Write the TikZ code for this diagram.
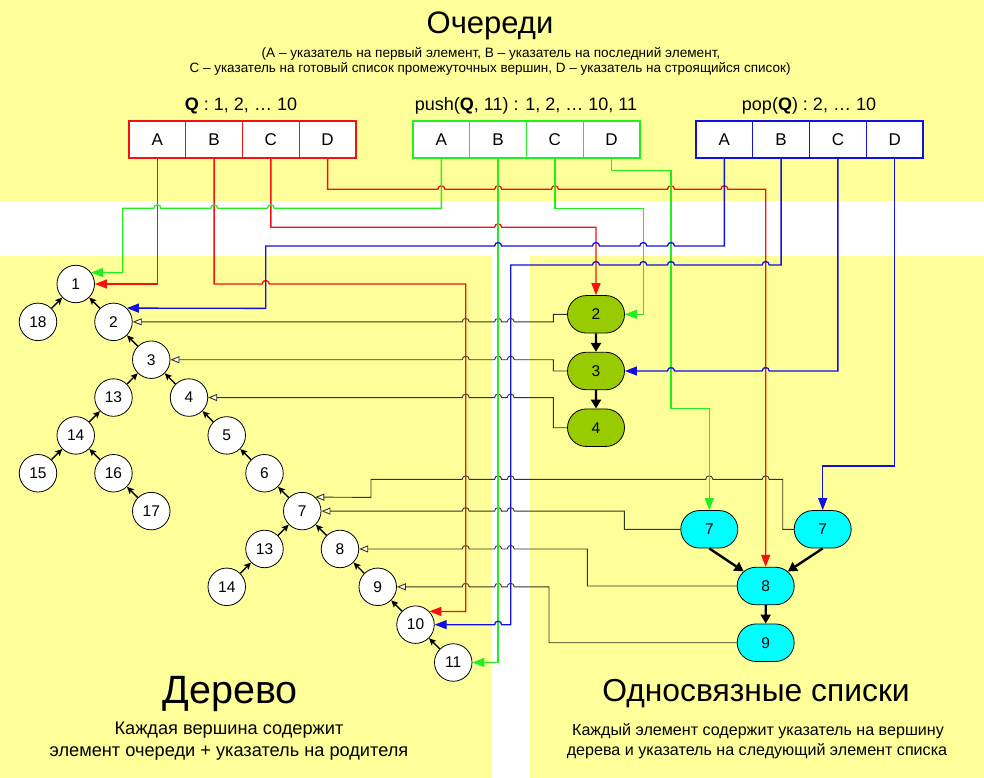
\documentclass[tikz,border=0pt]{standalone}
\usepackage{fontspec}
\setmainfont{Liberation Sans}
\usetikzlibrary{arrows.meta,shapes.misc}
\definecolor{bgY}{HTML}{FFFF99}
\definecolor{cR}{HTML}{F81010}
\definecolor{cG}{HTML}{22EE22}
\definecolor{cB}{HTML}{1010E0}
\definecolor{lgreen}{HTML}{99CC00}
\definecolor{lcyan}{HTML}{00FFFF}
\definecolor{ptr}{HTML}{333322}
\begin{document}
\begin{tikzpicture}[x=1pt,y=-1pt,
 cell/.style={draw, fill=white, line width=1.3pt, minimum width=56.75pt, minimum height=37pt, inner sep=0pt, font=\fontsize{17}{20}\selectfont},
 tn/.style={circle, draw=black, fill=white, line width=0.8pt, minimum size=37.5pt, inner sep=0pt, font=\fontsize{15.5}{18}\selectfont},
 gln/.style={rounded rectangle, draw=black, fill=lgreen, line width=0.8pt, minimum width=57pt, minimum height=37.5pt, inner sep=0pt, font=\fontsize{15.5}{18}\selectfont},
 cln/.style={gln, fill=lcyan},
 rl/.style={draw=cR, line width=1.3pt},
 gl/.style={draw=cG, line width=1.3pt},
 bl/.style={draw=cB, line width=1.3pt},
 cend/.style={-{Triangle[length=12pt,width=9pt]}},
 pl/.style={draw=ptr, line width=0.9pt, -{Triangle[open,length=9pt,width=7pt,fill=white]}},
 tedge/.style={draw=black, line width=1.4pt, -{Stealth[length=7pt,width=6.5pt,inset=1.5pt]}},
 ledge/.style={draw=black, line width=2.4pt, -{Triangle[length=9pt,width=10pt]}},
 hopR/.style args={#1/#2}{insert path={-- ({#1-3.5},#2) .. controls ({#1-3.5},{#2-4.6}) and ({#1+3.5},{#2-4.6}) .. ({#1+3.5},#2)}},
 hopL/.style args={#1/#2}{insert path={-- ({#1+3.5},#2) .. controls ({#1+3.5},{#2-4.6}) and ({#1-3.5},{#2-4.6}) .. ({#1-3.5},#2)}},
]
% background
\fill[bgY] (0,0) rectangle (984,201);
\fill[bgY] (0,256) rectangle (492,778);
\fill[bgY] (530,256) rectangle (984,778);
\useasboundingbox (0,0) rectangle (984,778);

% titles
\node[anchor=base, font=\fontsize{31}{36}\selectfont] (title) at (490,34) {Очереди};
\node[anchor=base, font=\fontsize{13.6}{16}\selectfont] (sub1) at (491,57.5) {(A – указатель на первый элемент, B – указатель на последний элемент,};
\node[anchor=base, font=\fontsize{13.5}{16}\selectfont] (sub2) at (490,73) {C – указатель на готовый список промежуточных вершин, D – указатель на строящийся список)};
\node[anchor=base, font=\fontsize{18}{20}\selectfont] (lq) at (241,111) {\textbf{Q} : 1, 2, … 10};
\node[anchor=base, font=\fontsize{18}{20}\selectfont] (lpush) at (526,111) {push(\textbf{Q}, 11) : 1, 2, … 10, 11};
\node[anchor=base, font=\fontsize{18}{20}\selectfont] (lpop) at (809,111) {pop(\textbf{Q}) : 2, … 10};
\node[anchor=base, font=\fontsize{39.5}{44}\selectfont] (tree) at (230,703) {Дерево};
\node[anchor=base, font=\fontsize{18.2}{20}\selectfont] (tree1) at (229,734) {Каждая вершина содержит};
\node[anchor=base, font=\fontsize{18.2}{20}\selectfont] (tree2) at (229,756) {элемент очереди + указатель на родителя};
\node[anchor=base, font=\fontsize{31.8}{36}\selectfont] (lists) at (756,701) {Односвязные списки};
\node[anchor=base, font=\fontsize{16.1}{18}\selectfont] (lists1) at (758,735) {Каждый элемент содержит указатель на вершину};
\node[anchor=base, font=\fontsize{16.1}{18}\selectfont] (lists2) at (757,755) {дерева и указатель на следующий элемент списка};

% queue cells
\node[cell, draw=cR] (rA) at (157.375,139.5) {A};
\node[cell, draw=cR] (rB) at (214.125,139.5) {B};
\node[cell, draw=cR] (rC) at (270.875,139.5) {C};
\node[cell, draw=cR] (rD) at (327.625,139.5) {D};
\node[cell, draw=cG] (gA) at (441.375,139.5) {A};
\node[cell, draw=cG] (gB) at (498.125,139.5) {B};
\node[cell, draw=cG] (gC) at (554.875,139.5) {C};
\node[cell, draw=cG] (gD) at (611.625,139.5) {D};
\node[cell, draw=cB] (bA) at (724.375,139.5) {A};
\node[cell, draw=cB] (bB) at (781.125,139.5) {B};
\node[cell, draw=cB] (bC) at (837.875,139.5) {C};
\node[cell, draw=cB] (bD) at (894.625,139.5) {D};

% tree nodes
\node[tn] (t1)  at (75.75,284)    {1};
\node[tn] (t18) at (38,321.85)    {18};
\node[tn] (t2)  at (113.5,321.85) {2};
\node[tn] (t3)  at (151.25,359.7) {3};
\node[tn] (t13) at (113.5,397.55) {13};
\node[tn] (t4)  at (189,397.55)   {4};
\node[tn] (t14) at (75.75,435.4)  {14};
\node[tn] (t5)  at (226.75,435.4) {5};
\node[tn] (t15) at (38,473.25)    {15};
\node[tn] (t16) at (113.5,473.25) {16};
\node[tn] (t6)  at (264.5,473.25) {6};
\node[tn] (t17) at (151.25,511.1) {17};
\node[tn] (t7)  at (302.25,511.1) {7};
\node[tn] (t13b) at (264.5,548.95) {13};
\node[tn] (t8)  at (340,548.95)   {8};
\node[tn] (t14b) at (226.75,586.8) {14};
\node[tn] (t9)  at (377.75,586.8) {9};
\node[tn] (t10) at (415.5,624.65) {10};
\node[tn] (t11) at (453.25,662.5) {11};

\foreach \c/\p in {t18/t1,t2/t1,t3/t2,t13/t3,t4/t3,t14/t13,t5/t4,t15/t14,t16/t14,t6/t5,t17/t16,t7/t6,t13b/t7,t8/t7,t14b/t13b,t9/t8,t10/t9,t11/t10}
  \draw[tedge] (\c) -- (\p);

% list nodes
\node[gln] (l2) at (596,314.3) {2};
\node[gln] (l3) at (596,371)   {3};
\node[gln] (l4) at (596,427.7) {4};
\node[cln] (c7a) at (709.3,529.3) {7};
\node[cln] (c7b) at (822.7,529.3) {7};
\node[cln] (c8)  at (765.7,586)   {8};
\node[cln] (c9)  at (765.7,642.7) {9};

\draw[ledge] (l2) -- (l3);
\draw[ledge] (l3) -- (l4);
\draw[ledge] (c7a.south) -- (c8);
\draw[ledge] (c7b.south) -- (c8);
\draw[ledge] (c8) -- (c9);

% pointers from lists to tree
\draw[pl] (l2.west) -- (553.3,314.3) -- (553.3,321.85) [hopL=510.7/321.85] [hopL=498.125/321.85] [hopL=465.7/321.85] -- (t2.east);
\draw[pl] (l3.west) -- (553.3,371) -- (553.3,359.7) [hopL=510.7/359.7] [hopL=498.125/359.7] [hopL=465.7/359.7] -- (t3.east);
\draw[pl] (l4.west) -- (553.3,427.7) -- (553.3,397.55) [hopL=510.7/397.55] [hopL=498.125/397.55] [hopL=465.7/397.55] -- (t4.east);
\draw[pl] (c7a.west) -- (624.3,529.3) -- (624.3,511.1) [hopL=510.7/511.1] [hopL=498.125/511.1] [hopL=465.7/511.1] -- (t7.east);
\draw[pl] (c7b.west) -- (782.7,529.3) -- (782.7,479.3) [hopL=765.7/479.3] [hopL=709.3/479.3] [hopL=510.7/479.3] [hopL=498.125/479.3] [hopL=465.7/479.3] -- (371,479.3) -- (371,497.4) -- (t7.47);
\draw[pl] (c8.west) -- (587.3,586) -- (587.3,548.95) [hopL=510.7/548.95] [hopL=498.125/548.95] [hopL=465.7/548.95] -- (t8.east);
\draw[pl] (c9.west) -- (549,642.7) -- (549,586.8) [hopL=510.7/586.8] [hopL=498.125/586.8] [hopL=465.7/586.8] -- (t9.east);

% red queue pointers
\draw[rl, cend] (rA.south) -- (157.375,284) -- (t1.east);
\draw[rl, cend] (rB.south) -- (214.125,284) [hopR=265.7/284] -- (465.7,284) -- (465.7,611.6) -- (t10.44);
\draw[rl, cend] (rC.south) -- (270.875,227.3) [hopR=498.125/227.3] -- (596,227.3) -- (l2.north);
\draw[rl, cend] (rD.south) -- (327.625,189.3) [hopR=441.375/189.3] [hopR=498.125/189.3] [hopR=554.875/189.3] [hopR=671/189.3] [hopR=724.375/189.3] -- (765.7,189.3) -- (c8.north);

% green queue pointers
\draw[gl, cend] (gA.south) -- (441.375,208.3) [hopL=270.875/208.3] [hopL=214.125/208.3] [hopL=157.375/208.3] -- (122.7,208.3) -- (122.7,272.7) -- (t1.37);
\draw[gl, cend] (gB.south) -- (498.125,662.5) -- (t11.east);
\draw[gl, cend] (gC.south) -- (554.875,208.3) -- (643.3,208.3) -- (643.3,314.3) -- (l2.east);
\draw[gl, cend] (gD.south) -- (611.625,170.7) -- (671,170.7) -- (671,408.3) -- (709.3,408.3) -- (c7a.north);

% blue queue pointers
\draw[bl, cend] (bA.south) -- (724.375,246) [hopL=671/246] [hopL=643.3/246] [hopL=596/246] [hopL=498.125/246] -- (265.7,246) -- (265.7,308.4) -- (t2.46);
\draw[bl, cend] (bB.south) -- (781.125,265) [hopL=765.7/265] [hopL=671/265] [hopL=643.3/265] [hopL=596/265] -- (510.7,265) -- (510.7,624.65) [hopL=498.125/624.65] -- (t10.east);
\draw[bl, cend] (bC.south) -- (837.875,371) [hopL=765.7/371] [hopL=671/371] -- (l3.east);
\draw[bl, cend] (bD.south) -- (894.625,466) -- (822.7,466) -- (c7b.north);
\end{tikzpicture}
\end{document}
